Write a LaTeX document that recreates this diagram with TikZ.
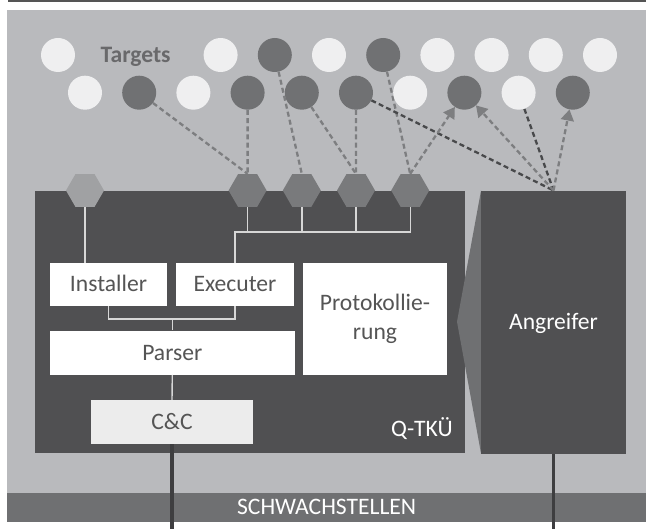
\documentclass[tikz,border=0pt]{standalone}
\usepackage{fontspec}
\setmainfont{Carlito}
\usetikzlibrary{shapes.geometric,arrows.meta}
\definecolor{bgc}{RGB}{185,186,189}
\definecolor{boxc}{RGB}{80,80,82}
\definecolor{midc}{RGB}{111,112,114}
\definecolor{lc}{RGB}{239,239,240}
\definecolor{dc}{RGB}{112,113,115}
\definecolor{hexc}{RGB}{121,122,124}
\definecolor{hexl}{RGB}{160,161,163}
\definecolor{dashg}{RGB}{125,126,128}
\definecolor{dashd}{RGB}{72,73,75}
\definecolor{conn}{RGB}{215,215,215}
\definecolor{txtc}{RGB}{85,85,85}
\definecolor{ccf}{RGB}{236,236,236}
\definecolor{vline}{RGB}{62,62,64}
\definecolor{topl}{RGB}{85,85,85}
\definecolor{targc}{RGB}{105,105,107}
\pgfdeclarelayer{bglayer}
\pgfdeclarelayer{linelayer}
\pgfsetlayers{bglayer,linelayer,main}
\begin{document}
\begin{tikzpicture}[x=1pt,y=-1pt,
  every node/.style={font=\fontsize{23.6}{28.4}\selectfont},
  circ/.style={circle,minimum size=34pt,inner sep=0pt,draw=none},
  hexa/.style={regular polygon,regular polygon sides=6,minimum size=38pt,inner sep=0pt,fill=hexc},
  wbox/.style={fill=white,inner sep=0pt,text=txtc,align=center},
  onel/.style={text height=15pt,text depth=0pt},
  dbox/.style={fill=boxc,inner sep=0pt},
  gdash/.style={draw=dashg,line width=2.3pt,dash pattern=on 5pt off 3.2pt},
  ddash/.style={draw=dashd,line width=2.3pt,dash pattern=on 5pt off 3.2pt},
  tip/.style={-{Triangle[length=11pt,width=13pt]}},
  connl/.style={draw=conn,line width=1.4pt},
  vl/.style={draw=vline,line width=3.4pt}]
\useasboundingbox (0,0) rectangle (646,529);
\begin{pgfonlayer}{bglayer}
  \fill[bgc] (7.4,10) rectangle (646,493);
  \draw[topl,line width=2pt] (8,1) -- (646,1);
  \node[dbox,minimum width=430pt,minimum height=262.6pt] (qtku) at (250,322) {};
  \fill[midc] (481,190.7) -- (457,321.7) -- (481,453.3) -- cycle;
  \node[dbox,minimum width=145pt,minimum height=263.3pt,text=white,onel] (ang) at (553.5,322.3) {Angreifer};
  \node[fill=midc,minimum width=638.6pt,minimum height=28.7pt,inner sep=0pt,text=white,onel] (bar) at (326.7,507.3) {SCHWACHSTELLEN};
\end{pgfonlayer}
% targets
\foreach \k/\c in {0/lc,3/lc,4/dc,5/lc,6/dc,7/lc,8/lc,9/lc,10/lc}
  \node[circ,fill=\c] (a\k) at (58+54.2*\k,55) {};
\foreach \k/\c in {0/lc,1/dc,2/lc,3/dc,4/dc,5/dc,6/lc,7/dc,8/lc,9/dc}
  \node[circ,fill=\c] (b\k) at (85+54.2*\k,92.7) {};
\node[anchor=base west,text=targc,font=\fontsize{23.6}{28}\selectfont\bfseries,inner sep=0pt] (tlabel) at (100.5,62.3) {Targets};
% hexagons
\node[hexa,fill=hexl] (h1) at (85,190.5) {};
\node[hexa] (h2) at (247.6,190.5) {};
\node[hexa] (h3) at (301.8,190.5) {};
\node[hexa] (h4) at (356,190.5) {};
\node[hexa] (h5) at (410.2,190.5) {};
% boxes
\node[wbox,onel,minimum width=117pt,minimum height=43pt] (inst) at (108.5,284.5) {Installer};
\node[wbox,onel,minimum width=118pt,minimum height=43pt] (exec) at (235,284.5) {Executer};
\node[wbox,minimum width=144pt,minimum height=112pt] (prot) at (375,319) {Protokollie-\\rung};
\node[wbox,onel,minimum width=244.6pt,minimum height=44pt] (parser) at (172.3,352.7) {Parser};
\node[wbox,onel,fill=ccf,minimum width=162pt,minimum height=44pt] (cc) at (172,422) {C\&C};
\node[anchor=base east,text=white,inner sep=0pt] (qlabel) at (453,436.7) {Q-TKÜ};
% dashed connectors
\begin{pgfonlayer}{linelayer}
  \draw[gdash] (b1) -- (h2.north);
  \draw[gdash] (b3) -- (h2.north);
  \draw[gdash] (a4) -- (h3.north);
  \draw[gdash] (b4) -- (h4.north);
  \draw[gdash] (b5) -- (h4.north);
  \draw[gdash] (a6) -- (h5.north);
  \draw[ddash] (b5) -- (ang.north);
  \draw[ddash] (b8) -- (ang.north);
  \draw[gdash,tip,dashg] (h5.north) -- (b7);
  \draw[gdash,tip,dashg] (ang.north) -- (b7);
  \draw[gdash,tip,dashg] (ang.north) -- (b9);
\end{pgfonlayer}
% inner connectors
\coordinate (busy) at (0,232);
\coordinate (py) at (0,319);
\coordinate (bot) at (0,529);
\draw[connl] (h1.south) -- (h1.south |- inst.north);
\draw[connl] (exec.north) -- (exec.north |- busy) -- (h5.south |- busy) -- (h5.south);
\draw[connl] (h2.south) -- (h2.south |- busy);
\draw[connl] (h3.south) -- (h3.south |- busy);
\draw[connl] (h4.south) -- (h4.south |- busy);
\draw[connl] (inst.south) -- (inst.south |- py) -- (exec.south |- py) -- (exec.south);
\draw[connl] (parser.north |- py) -- (parser.north);
\draw[connl] (parser.south) -- (cc.north);
\draw[vl] (cc.south) -- (cc.south |- bot);
\draw[vl] (ang.south) -- (ang.south |- bot);
\end{tikzpicture}
\end{document}
